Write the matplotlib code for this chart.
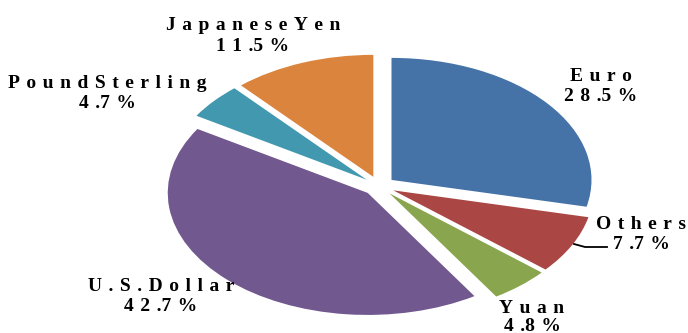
import re
import matplotlib.pyplot as plt

# currency shares, clockwise from 12 o'clock
currencies = ["Euro", "Others", "Yuan", "U.S. Dollar", "Pound Sterling", "Japanese Yen"]
shares = [28.5, 7.7, 4.8, 42.7, 4.7, 11.5]
colors = ["#4572A7", "#AA4643", "#89A54E", "#71588F", "#4198AF", "#DB843D"]

# label anchor (x centre, name baseline, value baseline) in pixels from top-left
label_pos = [(601, 81, 101), (641, 229, 249), (532, 313, 331),
             (161, 291, 311), (107, 88, 108), (253, 30, 51)]

W, H = 688, 333
GAP = "\u2004"  # wide letter spacing


def spaced(s):
    s = GAP.join(s.replace(" ", ""))
    return re.sub(r"\." + GAP + r"(\d)", r".\1", s)


fig = plt.figure(figsize=(W / 100, H / 100), dpi=100)
ax = fig.add_axes([0, 0, 1, 1])
ax.pie(shares, colors=colors, startangle=90, counterclock=False,
       explode=[0.08] * len(shares), wedgeprops=dict(linewidth=0))

# squash the pie into an ellipse: 200 px per unit across, 122 px per unit up
cx, cy, rx, ry = 379, 186, 200, 122
ax.set_aspect("auto")
ax.set_xlim(-cx / rx, (W - cx) / rx)
ax.set_ylim(-(H - cy) / ry, cy / ry)
ax.axis("off")

font = dict(family=["Liberation Serif", "DejaVu Serif"], weight="bold",
            size=14, color="black", ha="center", va="baseline")
for name, val, (x, yn, yv) in zip(currencies, shares, label_pos):
    fig.text(x / W, 1 - yn / H, spaced(name), **font)
    fig.text(x / W, 1 - yv / H, spaced(f"{val}%"), **font)

# leader line to the Others label
ax.plot([574 / W, 585 / W, 607 / W], [1 - 244 / H, 1 - 247 / H, 1 - 247 / H],
        transform=fig.transFigure, color="black", lw=1.3)

fig.savefig("out.png", dpi=100)
